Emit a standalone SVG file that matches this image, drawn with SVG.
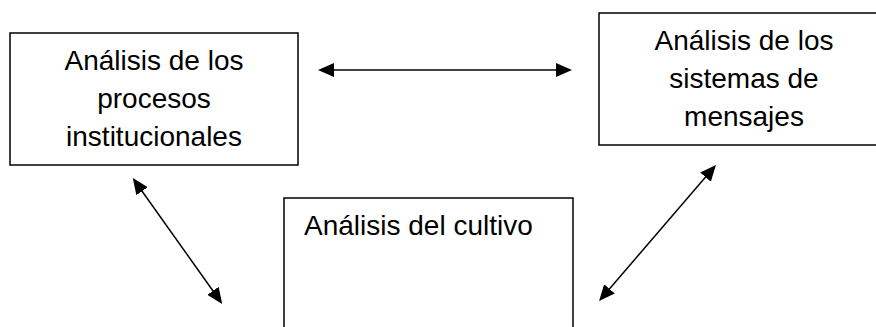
<svg xmlns="http://www.w3.org/2000/svg" width="876" height="327" viewBox="0 0 876 327">
<style>
.box{fill:#fff;stroke:#000;stroke-width:1.5}
.t{font-family:"Liberation Sans",Arial,sans-serif;font-size:28px;fill:#000}
.c{text-anchor:middle}
.conn{stroke:#000;stroke-width:1.5;fill:none;marker-start:url(#ah);marker-end:url(#ah)}
</style>
<defs>
<marker id="ah" markerUnits="userSpaceOnUse" markerWidth="16" markerHeight="14" viewBox="0 0 16 14" refX="11" refY="7" orient="auto-start-reverse">
<path d="M0,0 L16,7 L0,14 z" fill="#000"/>
</marker>
</defs>
<rect width="876" height="327" fill="#fff"/>
<g id="procesos">
<rect class="box" x="10" y="33" width="288" height="132"/>
<text class="t c" x="154" y="70">Análisis de los</text>
<text class="t c" x="154" y="108">procesos</text>
<text class="t c" x="154" y="146">institucionales</text>
</g>
<g id="mensajes">
<rect class="box" x="599" y="13" width="290" height="132"/>
<text class="t c" x="744" y="50">Análisis de los</text>
<text class="t c" x="744" y="88">sistemas de</text>
<text class="t c" x="744" y="126">mensajes</text>
</g>
<g id="cultivo">
<rect class="box" x="284" y="198" width="289" height="140"/>
<text class="t" x="304" y="235">Análisis del cultivo</text>
</g>
<g id="connectors">
<line class="conn" x1="323" y1="70" x2="567" y2="70"/>
<line class="conn" x1="135.7" y1="182.2" x2="219.3" y2="299.8"/>
<line class="conn" x1="712.7" y1="168.8" x2="602.3" y2="297.2"/>
</g>
</svg>
